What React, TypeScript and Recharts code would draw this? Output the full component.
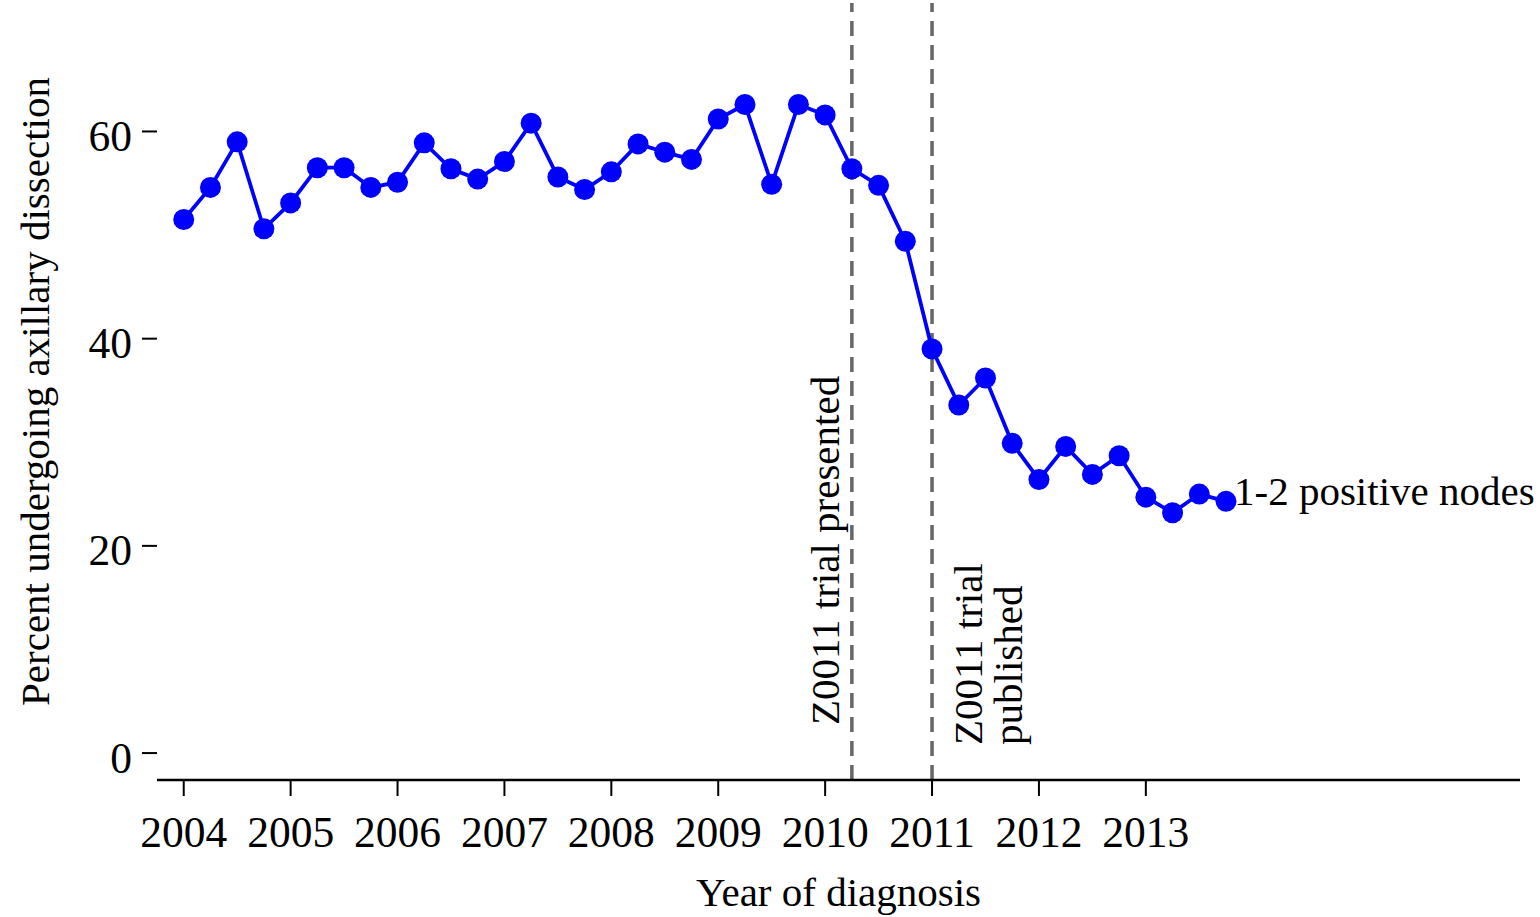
import { LineChart, Line, XAxis, YAxis, ReferenceLine, LabelList, Label } from 'recharts';

const FONT = '"Liberation Serif", "Times New Roman", serif';

// quarterly points, Q1 2004 .. Q4 2013
const quarters = [
  2004, 2004.25, 2004.5, 2004.75,
  2005, 2005.25, 2005.5, 2005.75,
  2006, 2006.25, 2006.5, 2006.75,
  2007, 2007.25, 2007.5, 2007.75,
  2008, 2008.25, 2008.5, 2008.75,
  2009, 2009.25, 2009.5, 2009.75,
  2010, 2010.25, 2010.5, 2010.75,
  2011, 2011.25, 2011.5, 2011.75,
  2012, 2012.25, 2012.5, 2012.75,
  2013, 2013.25, 2013.5, 2013.75,
];

// percent undergoing axillary dissection, 1-2 positive nodes
const pct = [
  51.5, 54.6, 59.0, 50.6,
  53.1, 56.5, 56.5, 54.6,
  55.1, 58.9, 56.4, 55.4,
  57.1, 60.8, 55.6, 54.4,
  56.1, 58.8, 58.0, 57.3,
  61.2, 62.6, 54.9, 62.6,
  61.6, 56.4, 54.8, 49.4,
  39.0, 33.6, 36.2, 29.9,
  26.4, 29.6, 26.9, 28.7,
  24.7, 23.2, 25.0, 24.3,
];

const yearTicks = [2004, 2005, 2006, 2007, 2008, 2009, 2010, 2011, 2012, 2013];
const yTicks = [0, 20, 40, 60];
const trialPresented = 2010.25;
const trialPublished = 2011;

const data = quarters.map((q, i) => ({ q, pct: pct[i] }));

const EndLabel = (props: any) => {
  const { x, y, index } = props;
  if (index !== data.length - 1) return null;
  return (
    <text x={x + 8} y={y + 4} fontFamily={FONT} fontSize={41} fill="#000">
      1-2 positive nodes
    </text>
  );
};

const PresentedLabel = (props: any) => {
  const vb = props.viewBox;
  const x = vb.x - 13;
  const y = vb.y + vb.height - 55;
  return (
    <text x={x} y={y} transform={`rotate(-90, ${x}, ${y})`} fontFamily={FONT} fontSize={41} fill="#000">
      Z0011 trial presented
    </text>
  );
};

const PublishedLabel = (props: any) => {
  const vb = props.viewBox;
  const y = vb.y + vb.height - 35;
  const x1 = vb.x + 50;
  const x2 = vb.x + 90;
  return (
    <g>
      <text x={x1} y={y} transform={`rotate(-90, ${x1}, ${y})`} fontFamily={FONT} fontSize={41} fill="#000">
        Z0011 trial
      </text>
      <text x={x2} y={y} transform={`rotate(-90, ${x2}, ${y})`} fontFamily={FONT} fontSize={41} fill="#000">
        published
      </text>
    </g>
  );
};

const YTitle = (props: any) => {
  const vb = props.viewBox;
  const x = vb.x + 49;
  const y = vb.y + vb.height / 2;
  return (
    <text x={x} y={y} transform={`rotate(-90, ${x}, ${y})`} textAnchor="middle" fontFamily={FONT} fontSize={41} fill="#000">
      Percent undergoing axillary dissection
    </text>
  );
};

const XTitle = (props: any) => {
  const vb = props.viewBox;
  return (
    <text x={vb.x + vb.width / 2} y={vb.y + 126} textAnchor="middle" fontFamily={FONT} fontSize={41} fill="#000">
      Year of diagnosis
    </text>
  );
};

export default function App() {
  return (
    <div style={{ position: 'absolute', left: 0, top: 0, background: '#fff', fontFamily: FONT }}>
      <LineChart width={1540} height={917} data={data} margin={{ top: 3, right: 20, bottom: 0, left: 0 }}>
        <XAxis
          dataKey="q"
          type="number"
          domain={[2003.75, 2016.5]}
          ticks={yearTicks}
          interval={0}
          height={137}
          tickSize={16}
          tickMargin={20}
          axisLine={{ stroke: '#000', strokeWidth: 2.5 }}
          tickLine={{ stroke: '#000', strokeWidth: 2 }}
          tick={{ fill: '#000', fontSize: 43.5, fontFamily: FONT }}
        >
          <Label content={XTitle} />
        </XAxis>
        <YAxis
          type="number"
          domain={[-2.6, 72.4]}
          ticks={yTicks}
          width={157}
          tickSize={15}
          tickMargin={10}
          axisLine={false}
          tickLine={{ stroke: '#000', strokeWidth: 2 }}
          tick={{ fill: '#000', fontSize: 43.5, fontFamily: FONT, dy: 4 }}
        >
          <Label content={YTitle} />
        </YAxis>
        <ReferenceLine
          x={trialPresented}
          stroke="#666"
          strokeWidth={3.5}
          strokeDasharray="15 9"
          label={PresentedLabel}
        />
        <ReferenceLine
          x={trialPublished}
          stroke="#666"
          strokeWidth={3.5}
          strokeDasharray="15 9"
          label={PublishedLabel}
        />
        <Line
          type="linear"
          dataKey="pct"
          stroke="#0000ff"
          strokeWidth={3.8}
          dot={{ r: 10.5, fill: '#0000ff', stroke: 'none' }}
          activeDot={false}
          isAnimationActive={false}
        >
          <LabelList dataKey="pct" content={EndLabel} />
        </Line>
      </LineChart>
    </div>
  );
}
